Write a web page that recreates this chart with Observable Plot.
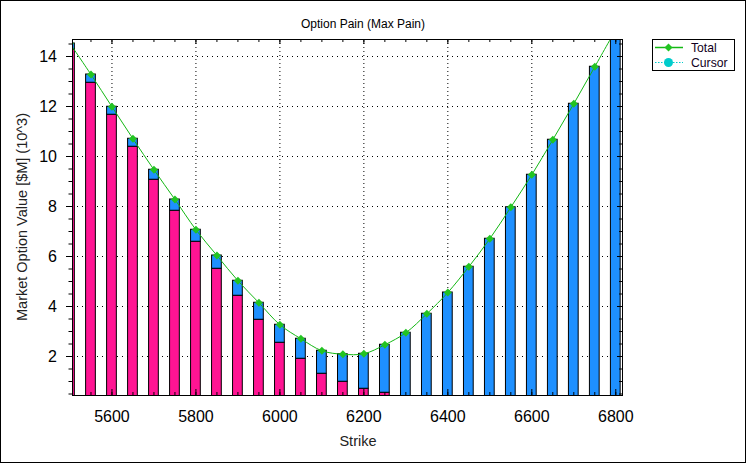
<!DOCTYPE html>
<html><head><meta charset="utf-8">
<script src="https://cdn.jsdelivr.net/npm/d3@7"></script>
<script src="https://cdn.jsdelivr.net/npm/@observablehq/plot@0.6"></script>
<style>body{margin:0;background:#fff} #chart svg{display:block}</style>
</head><body><div id="chart"></div>
<script>
const strikes = [5500,5550,5600,5650,5700,5750,5800,5850,5900,5950,6000,6050,6100,6150,6200,6250,6300,6350,6400,6450,6500,6550,6600,6650,6700,6750,6800];
// pink segment (bottom of each bar), $M x10^3
const putValue = [14.28,12.95,11.67,10.39,9.07,7.83,6.59,5.51,4.43,3.47,2.55,1.91,1.31,0.99,0.71,0.55,0.38,0.26,0.17,0.11,0.07,0.04,0.02,0.01,0.01,0.01,0.01];
// blue segment (top of each bar)
const callValue = [0.24,0.33,0.32,0.32,0.40,0.45,0.48,0.53,0.60,0.68,0.72,0.80,0.92,1.10,1.40,1.92,2.57,3.45,4.39,5.48,6.64,7.93,9.25,10.66,12.10,13.58,15.07];
const xMajorTicks = [5600,5800,6000,6200,6400,6600,6800];
const xMinorTicks = d3.range(5550, 6801, 50);
const yMajorTicks = [2,4,6,8,10,12,14];
const yMinorTicks = d3.range(0.5, 14.6, 0.5);
const titleText = "Option Pain (Max Pain)";
const xLabel = "Strike";
const yLabel = "Market Option Value [$M] (10^3)";
const legendItems = ["Total","Cursor"];

const rows = strikes.map((s,i)=>({strike:s, put:putValue[i], call:callValue[i], total:putValue[i]+callValue[i]}));

const W = 746, H = 463, mL = 72, mR = 124, mT = 39, mB = 68;
const plotW = W - mL - mR, plotH = H - mT - mB;
const halfW = 11.6;
const font = "'Liberation Sans', Arial, sans-serif";

const chart = Plot.plot({
  width: W, height: H, marginLeft: mL, marginRight: mR, marginTop: mT, marginBottom: mB,
  x: {domain: [5506, 6816]},
  y: {domain: [0.44, 14.68]},
  style: {fontFamily: font, fontSize: "16px", background: "white", color: "black"},
  marks: [
    Plot.ruleX(xMajorTicks, {stroke: "black", strokeDasharray: "1,3"}),
    Plot.ruleY(yMajorTicks, {stroke: "black", strokeDasharray: "1,4"}),
    Plot.rect(rows, {x1: d => d.strike - halfW, x2: d => d.strike + halfW, y1: 0, y2: "put", fill: "#ff1493", stroke: "black", clip: true}),
    Plot.rect(rows, {x1: d => d.strike - halfW, x2: d => d.strike + halfW, y1: "put", y2: "total", fill: "#1e90ff", stroke: "black", clip: true}),
    Plot.line(rows, {x: "strike", y: "total", stroke: "#14b814", strokeWidth: 1, curve: "catmull-rom", clip: true}),
    Plot.dot(rows, {x: "strike", y: "total", symbol: "diamond2", r: 3.6, fill: "#22c422", clip: true}),
    Plot.ruleX(xMajorTicks, {insetTop: plotH - 6, stroke: "black"}),
    Plot.ruleX(xMinorTicks, {insetTop: plotH - 3, stroke: "black"}),
    Plot.ruleX(xMajorTicks, {insetBottom: plotH - 5, stroke: "black"}),
    Plot.ruleX(xMinorTicks, {insetBottom: plotH - 3, stroke: "black"}),
    Plot.ruleY(yMajorTicks, {insetLeft: plotW - 5, stroke: "black"}),
    Plot.ruleY(yMinorTicks, {insetLeft: plotW - 3, stroke: "black"}),
    Plot.axisY({ticks: yMajorTicks, tickSize: 6, tickPadding: 9.5, label: null, fontSize: 16}),
    Plot.axisY({ticks: yMinorTicks, tickSize: 3.5, tickFormat: () => "", label: null}),
    Plot.axisX({ticks: xMajorTicks, tickSize: 0, tickPadding: 15.5, tickFormat: d => String(d), label: null, fontSize: 16}),
    Plot.frame({stroke: "black"})
  ]
});
document.getElementById("chart").appendChild(chart);

const svg = d3.select(chart);
svg.append("rect").attr("x", 0.5).attr("y", 0.5).attr("width", W - 1).attr("height", H - 1)
  .attr("fill", "none").attr("stroke", "black");
svg.append("text").attr("x", 363).attr("y", 28).attr("text-anchor", "middle")
  .attr("font-size", 12).attr("font-family", font).attr("fill", "black").text(titleText);
svg.append("text").attr("x", 358).attr("y", 446).attr("text-anchor", "middle")
  .attr("font-size", 14.5).attr("font-family", font).attr("fill", "#222").text(xLabel);
svg.append("text").attr("transform", "translate(26.5,217) rotate(-90)").attr("text-anchor", "middle")
  .attr("font-size", 14.5).attr("font-family", font).attr("fill", "#222").text(yLabel);

// legend
const lg = svg.append("g");
lg.append("rect").attr("x", 652.5).attr("y", 39.5).attr("width", 82).attr("height", 31)
  .attr("fill", "white").attr("stroke", "black");
const rowY = [47.5, 62.5];
lg.append("line").attr("x1", 655).attr("x2", 683).attr("y1", rowY[0]).attr("y2", rowY[0])
  .attr("stroke", "#14b814").attr("stroke-width", 1.5);
lg.append("path").attr("d", d3.symbol(d3.symbolDiamond2, 40.8)()).attr("transform", `translate(668.5,${rowY[0]})`)
  .attr("fill", "#22c422");
lg.append("line").attr("x1", 655).attr("x2", 683).attr("y1", rowY[1]).attr("y2", rowY[1])
  .attr("stroke", "#00cccc").attr("stroke-width", 1.2).attr("stroke-dasharray", "1.5,1.5");
lg.append("circle").attr("cx", 668.5).attr("cy", rowY[1]).attr("r", 4.5).attr("fill", "#00cccc");
legendItems.forEach((t, i) => {
  lg.append("text").attr("x", 691).attr("y", rowY[i] + 4.3).attr("font-size", 12.2)
    .attr("text-anchor", "start").attr("font-family", font).attr("fill", "#110022").text(t);
});
</script>
</body></html>
